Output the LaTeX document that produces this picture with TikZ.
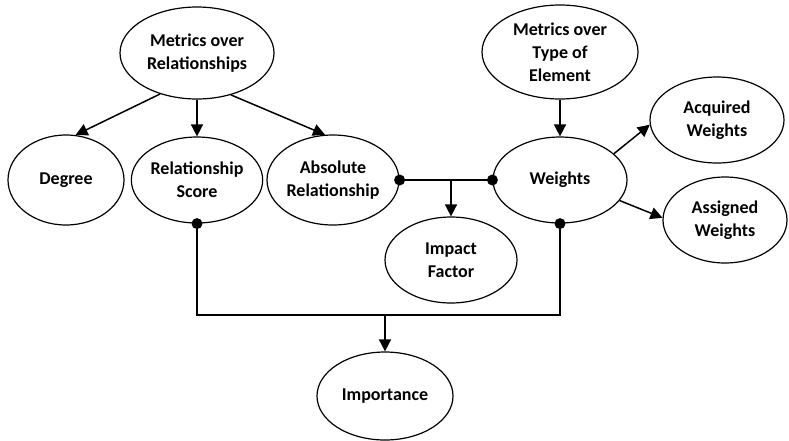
\documentclass[tikz,border=0pt]{standalone}
\usepackage{fontspec}
\setmainfont{Carlito}
\usetikzlibrary{shapes.geometric,arrows.meta}
\begin{document}
\begin{tikzpicture}[x=1pt,y=-1pt,
  el/.style={draw,ellipse,line width=1.2pt,inner sep=0pt,align=center,font=\fontsize{18}{23}\selectfont\bfseries},
  arr/.style={line width=1.5pt,-{Triangle[length=12pt,width=12pt]}},
  con/.style={line width=1.5pt},
  dot/.style={circle,fill=black,inner sep=0pt,minimum size=11pt}]
\useasboundingbox (0,0) rectangle (789,440);
\node[el,minimum width=154pt,minimum height=92pt] (mr) at (197,53) {Metrics over\\Relationships};
\node[el,minimum width=156pt,minimum height=94pt] (mt) at (560,52) {Metrics over\\Type of\\Element};
\node[el,minimum width=116pt,minimum height=90pt] (deg) at (66,180) {Degree};
\node[el,minimum width=130pt,minimum height=86pt] (rs) at (197,180) {Relationship\\Score};
\node[el,minimum width=132pt,minimum height=90pt] (ar) at (333,180) {Absolute\\Relationship};
\node[el,minimum width=134pt,minimum height=86pt] (w) at (560,180) {Weights};
\node[el,minimum width=134pt,minimum height=86pt] (aq) at (717,120) {Acquired\\Weights};
\node[el,minimum width=124pt,minimum height=86pt] (as) at (725,220) {Assigned\\Weights};
\node[el,minimum width=132pt,minimum height=86pt] (if) at (451,260) {Impact\\Factor};
\node[el,minimum width=136pt,minimum height=88pt] (im) at (385,396) {Importance};
% arrows from metrics
\draw[arr] (mr.228) -- (deg.78);
\draw[arr] (mr.south) -- (rs.north);
\draw[arr] (mr.309) -- (ar.100);
\draw[arr] (mt.south) -- (w.north);
\draw[arr] (w.26) -- (aq.184);
\draw[arr] (w.341) -- (as.178);
% junction lines
\node[dot] (d1) at (ar.east) {};
\node[dot] (d2) at (w.west) {};
\draw[con] (d1.center) -- (d2.center);
\draw[arr] (if.north |- d1.center) -- (if.north);
\node[dot] (d3) at (rs.south) {};
\node[dot] (d4) at (w.south) {};
\coordinate (b1) at (197,315);
\coordinate (b2) at (560,315);
\draw[con] (d3.center) -- (b1) -- (b2) -- (d4.center);
\draw[arr] (im.north |- b1) -- (im.north);
\end{tikzpicture}
\end{document}
